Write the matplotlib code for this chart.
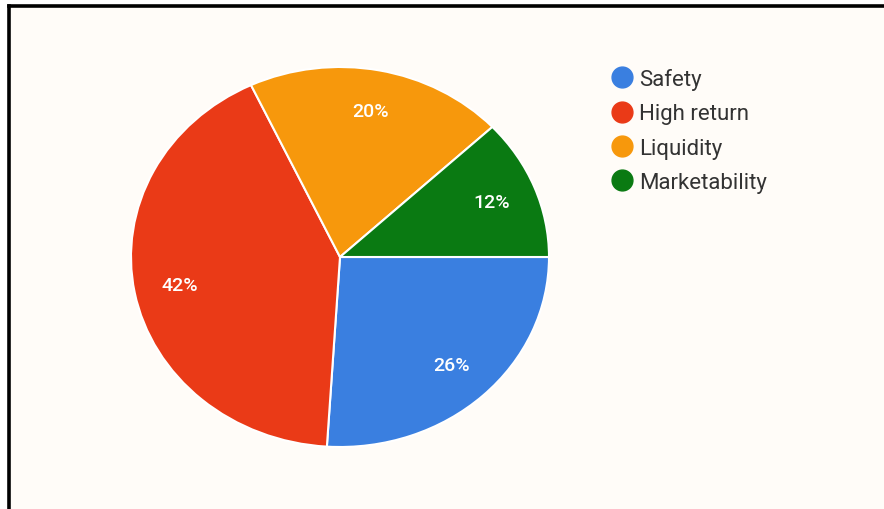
import matplotlib.pyplot as plt
from matplotlib.lines import Line2D

# Data
labels = ['Safety', 'High return', 'Liquidity', 'Marketability']
shares = [26, 42, 20, 12]
colors = ['#3a7fe0', '#ea3a17', '#f7980c', '#0a7a12']

plt.rcParams['font.family'] = ['Roboto', 'DejaVu Sans']

fig = plt.figure(figsize=(8.84, 5.10), dpi=100)
fig.patch.set_facecolor('white')

# background panel with black left/top edge
W, H = 884, 510
fig.patches.append(plt.Rectangle((8 / W, 0), 1, 1 - 7 / H, transform=fig.transFigure,
                                 facecolor='#fffcf8', edgecolor='none', zorder=-10))
fig.add_artist(Line2D([8.5 / W, 8.5 / W], [0, 1 - 7 / H], color='black', lw=2.6,
                      transform=fig.transFigure))
fig.add_artist(Line2D([8.5 / W, 1], [1 - 7 / H, 1 - 7 / H], color='black', lw=2.6,
                      transform=fig.transFigure))

# pie (slightly stretched horizontally like the reference)
cx, cy, rx, ry = 340, 258, 209, 190
ax = fig.add_axes([(cx - rx) / W, (H - cy - ry) / H, 2 * rx / W, 2 * ry / H])
ax.set_facecolor('none')
ax.set_zorder(5)
wedges, texts, autotexts = ax.pie(
    shares, colors=colors, startangle=0, counterclock=False,
    autopct='%d%%', pctdistance=0.78,
    wedgeprops=dict(edgecolor='white', linewidth=1.5),
    textprops=dict(color='white', fontsize=14, fontweight='medium'))
ax.set_aspect('auto')
ax.set_xlim(-1, 1)
ax.set_ylim(-1, 1)
ax.axis('off')

handles = [Line2D([], [], marker='o', linestyle='none', markersize=15,
                  markerfacecolor=c, markeredgecolor=c) for c in colors]
fig.legend(handles, labels, loc='upper left', bbox_to_anchor=(589 / W, 1 - 49 / H),
           frameon=False, fontsize=16, labelspacing=0.6, handletextpad=0.15,
           handlelength=1.2, labelcolor='#333333')

fig.savefig('out.png', dpi=100, facecolor=fig.get_facecolor())
